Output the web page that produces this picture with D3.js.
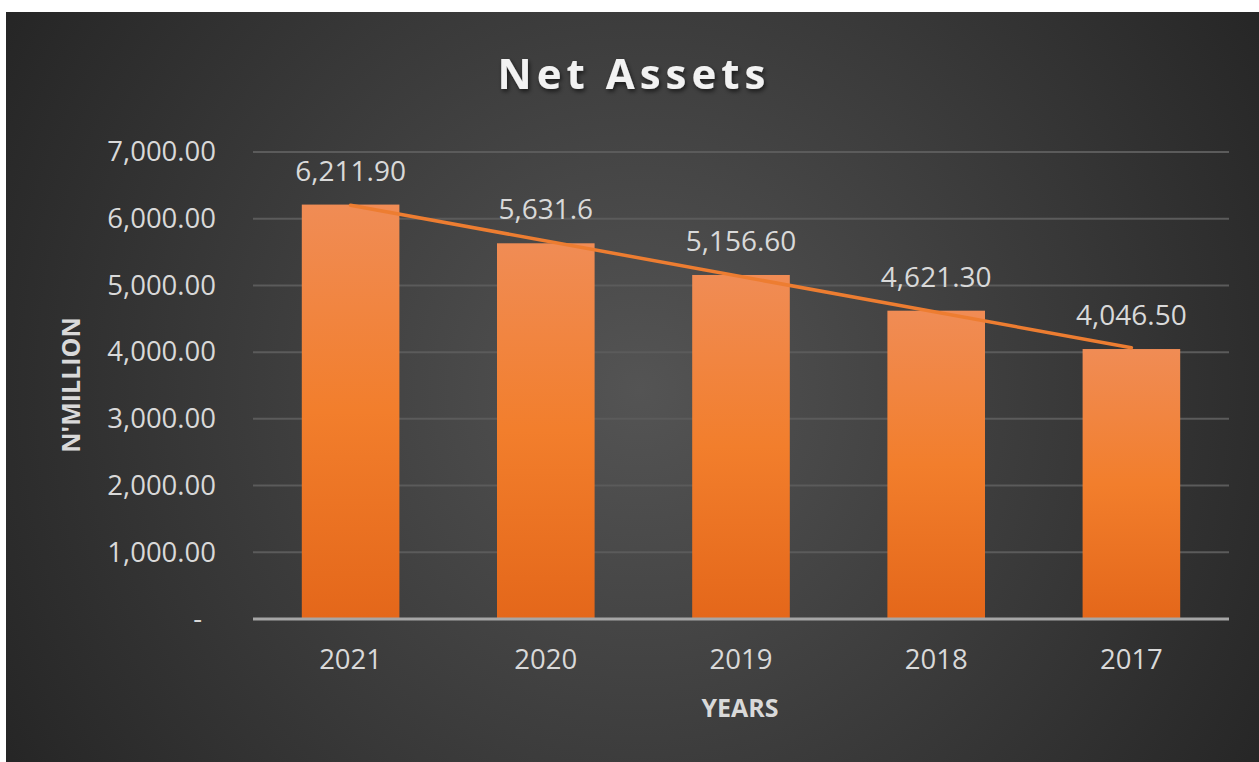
<!DOCTYPE html>
<html>
<head>
<meta charset="utf-8">
<script src="https://cdn.jsdelivr.net/npm/d3@7"></script>
<style>
  html, body { margin: 0; padding: 0; background: #ffffff; }
  svg { display: block; }
  text { font-family: "Open Sans", "Noto Sans", sans-serif; }
</style>
</head>
<body>
<svg id="chart" width="1259" height="762"></svg>
<script>
// Net assets by year (N'million)
const years = ["2021", "2020", "2019", "2018", "2017"];
const netAssets = [6211.9, 5631.6, 5156.6, 4621.3, 4046.5];
const valueLabels = ["6,211.90", "5,631.6", "5,156.60", "4,621.30", "4,046.50"];
const yTicks = [0, 1000, 2000, 3000, 4000, 5000, 6000, 7000];

const W = 1259, H = 762;
const panel = { x: 6, y: 12 };
const plot = { left: 253, right: 1229, top: 152, bottom: 619 };

const svg = d3.select("#chart");
const defs = svg.append("defs");

// background: soft radial gray
const bg = defs.append("radialGradient").attr("id", "bgGrad")
  .attr("gradientUnits", "userSpaceOnUse")
  .attr("cx", 640).attr("cy", 390).attr("r", 760);
bg.append("stop").attr("offset", "0%").attr("stop-color", "#545454");
bg.append("stop").attr("offset", "100%").attr("stop-color", "#242424");

// bar fill: lighter orange on top, deeper at the base
const barGrad = defs.append("linearGradient").attr("id", "barGrad")
  .attr("x1", 0).attr("y1", 0).attr("x2", 0).attr("y2", 1);
barGrad.append("stop").attr("offset", "0%").attr("stop-color", "#F08C55");
barGrad.append("stop").attr("offset", "50%").attr("stop-color", "#F27E2C");
barGrad.append("stop").attr("offset", "100%").attr("stop-color", "#E4671A");

const shadow = defs.append("filter").attr("id", "titleShadow")
  .attr("x", "-10%").attr("y", "-30%").attr("width", "120%").attr("height", "160%");
shadow.append("feDropShadow").attr("dx", 1.5).attr("dy", 2.5)
  .attr("stdDeviation", 2).attr("flood-color", "#000").attr("flood-opacity", 0.6);

svg.append("rect")
  .attr("x", panel.x).attr("y", panel.y)
  .attr("width", W - panel.x).attr("height", H - panel.y)
  .attr("fill", "url(#bgGrad)");

const x = d3.scaleBand().domain(years)
  .range([plot.left, plot.right]).paddingInner(0.5).paddingOuter(0.25);
const y = d3.scaleLinear().domain([0, 7000]).range([plot.bottom, plot.top]);

// gridlines
svg.append("g")
  .selectAll("line")
  .data(yTicks.filter(d => d > 0))
  .join("line")
  .attr("x1", plot.left).attr("x2", plot.right)
  .attr("y1", d => y(d)).attr("y2", d => y(d))
  .attr("stroke", "#5b5b5b").attr("stroke-width", 2);

// y axis labels
const yAxis = d3.axisLeft(y).tickValues(yTicks).tickSize(0).tickPadding(0)
  .tickFormat(d => d === 0 ? "-" : d3.format(",.2f")(d));
const yg = svg.append("g").attr("transform", `translate(216,0)`).call(yAxis);
yg.select(".domain").remove();
yg.selectAll("text")
  .attr("fill", "#d9d9d9").attr("font-size", 27.5)
  .attr("font-family", "'Open Sans', sans-serif")
  .attr("dx", d => d === 0 ? -14 : 0);

// bars
svg.append("g")
  .selectAll("rect")
  .data(years.map((yr, i) => ({ yr, v: netAssets[i] })))
  .join("rect")
  .attr("x", d => x(d.yr))
  .attr("y", d => y(d.v))
  .attr("width", x.bandwidth())
  .attr("height", d => y(0) - y(d.v))
  .attr("fill", "url(#barGrad)");

// x axis baseline and labels
const xAxis = d3.axisBottom(x).tickSize(0).tickPadding(0);
const xg = svg.append("g").attr("transform", `translate(0,${plot.bottom})`).call(xAxis);
xg.select(".domain")
  .attr("stroke", "#a6a6a6").attr("stroke-width", 3)
  .attr("d", `M${plot.left},0H${plot.right}`);
xg.selectAll("text")
  .attr("fill", "#d9d9d9").attr("font-size", 27.5)
  .attr("font-family", "'Open Sans', sans-serif")
  .attr("dy", "0")
  .attr("y", 50);

// linear trendline through the bar series
const n = netAssets.length;
const idx = d3.range(1, n + 1);
const mx = d3.mean(idx), my = d3.mean(netAssets);
const slope = d3.sum(idx.map((k, i) => (k - mx) * (netAssets[i] - my))) /
              d3.sum(idx.map(k => (k - mx) * (k - mx)));
const icpt = my - slope * mx;
const trend = [
  { yr: years[0], v: icpt + slope * 1 },
  { yr: years[n - 1], v: icpt + slope * n }
];
svg.append("path")
  .datum(trend)
  .attr("d", d3.line().x(d => x(d.yr) + x.bandwidth() / 2).y(d => y(d.v)))
  .attr("stroke", "#ED7D31").attr("stroke-width", 3.5)
  .attr("fill", "none").attr("stroke-linecap", "round");

// value labels
svg.append("g")
  .selectAll("text")
  .data(years.map((yr, i) => ({ yr, v: netAssets[i], t: valueLabels[i] })))
  .join("text")
  .attr("x", d => x(d.yr) + x.bandwidth() / 2)
  .attr("y", d => y(d.v) - 24)
  .attr("text-anchor", "middle")
  .attr("fill", "#d9d9d9").attr("font-size", 28)
  .text(d => d.t);

// title
svg.append("text")
  .attr("x", 634).attr("y", 89)
  .attr("text-anchor", "middle")
  .attr("fill", "#f2f2f2").attr("font-size", 42).attr("font-weight", 700)
  .attr("letter-spacing", 5)
  .attr("filter", "url(#titleShadow)")
  .text("Net Assets");

// axis titles
svg.append("text")
  .attr("x", 740).attr("y", 717)
  .attr("text-anchor", "middle")
  .attr("fill", "#d9d9d9").attr("font-size", 25).attr("font-weight", 700)
  .text("YEARS");

svg.append("text")
  .attr("transform", "translate(80,385) rotate(-90)")
  .attr("text-anchor", "middle")
  .attr("fill", "#d9d9d9").attr("font-size", 25).attr("font-weight", 700)
  .text("N'MILLION");
</script>
</body>
</html>
